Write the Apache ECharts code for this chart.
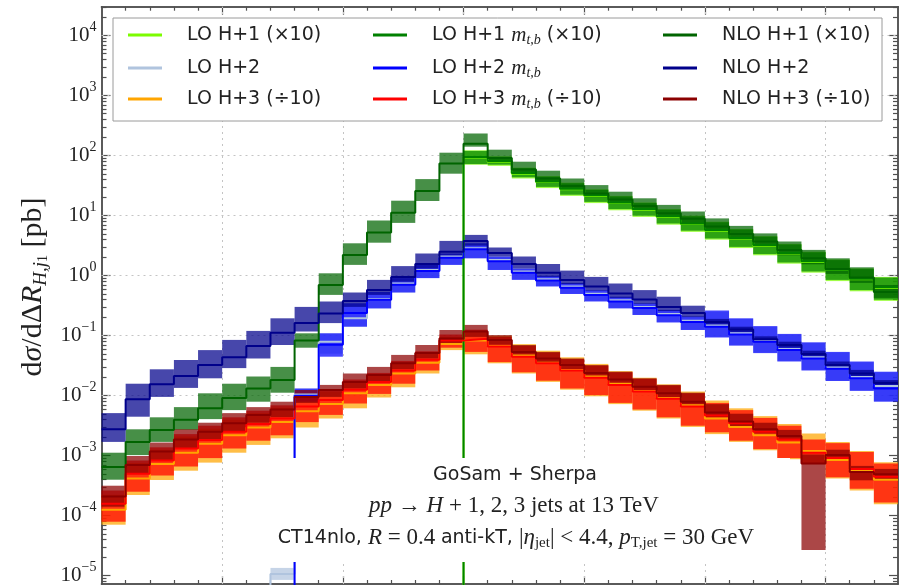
<!DOCTYPE html>
<html>
<head>
<meta charset="utf-8">
<script src="https://cdn.jsdelivr.net/npm/echarts@6/dist/echarts.min.js"></script>
<style>
  html, body { margin: 0; padding: 0; background: #ffffff; }
  #chart { width: 900px; height: 587px; }
</style>
</head>
<body>
<div id="chart"></div>
<script>
// ΔR(H, j1) bin edges
const binEdges = [0, 0.2, 0.4, 0.6, 0.8, 1.0, 1.2, 1.4, 1.6, 1.8, 2.0, 2.2, 2.4, 2.6, 2.8, 3.0, 3.2,
  3.4, 3.6, 3.8, 4.0, 4.2, 4.4, 4.6, 4.8, 5.0, 5.2, 5.4, 5.6, 5.8, 6.0, 6.2, 6.4, 6.6];

// Per bin: [lower, central, upper] of log10(dσ/dΔR / pb); null = empty bin
const loH1 = [null, null, null, null, null, null, null, null, null, null, null, null, null, null, null,
  [1.85, 1.97, 2.09], [1.83, 1.90, 1.99], [1.62, 1.70, 1.80], [1.46, 1.56, 1.66], [1.33, 1.44, 1.55],
  [1.21, 1.33, 1.44], [1.09, 1.21, 1.33], [0.98, 1.10, 1.22], [0.85, 0.98, 1.11], [0.73, 0.86, 1.00],
  [0.60, 0.75, 0.90], [0.46, 0.62, 0.78], [0.34, 0.50, 0.66], [0.20, 0.37, 0.53], [0.05, 0.23, 0.40],
  [-0.09, 0.095, 0.27], [-0.26, -0.06, 0.12], [-0.42, -0.20, -0.02]];

const loH2 = [null, null, null, null, null, null, null,
  [-5.07, -4.97, -4.87], [-2.12, -1.98, -1.88], [-1.30, -1.10, -0.96], [-0.85, -0.71, -0.46],
  [-0.545, -0.39, -0.27], [-0.28, -0.13, -0.04], [-0.04, 0.095, 0.18], [0.18, 0.32, 0.37],
  [0.29, 0.457, 0.54], [0.10, 0.26, 0.32], [-0.06, 0.07, 0.12], [-0.17, -0.06, 0.0],
  [-0.30, -0.18, -0.12], [-0.42, -0.30, -0.24], [-0.54, -0.41, -0.35], [-0.65, -0.52, -0.46],
  [-0.77, -0.64, -0.57], [-0.90, -0.75, -0.68], [-1.02, -0.83, -0.60], [-1.16, -0.96, -0.72],
  [-1.28, -1.08, -0.85], [-1.42, -1.22, -0.98], [-1.57, -1.36, -1.12], [-1.75, -1.53, -1.28],
  [-1.91, -1.69, -1.44], [-2.09, -1.84, -1.61]];

const loH3 = [
  [-4.15, -3.90, -3.65], [-3.655, -3.38, -3.12], [-3.405, -3.14, -2.90], [-3.25, -2.95, -2.68],
  [-3.115, -2.80, -2.55], [-2.95, -2.66, -2.40], [-2.82, -2.53, -2.29], [-2.71, -2.44, -2.20],
  [-2.53, -2.26, -2.02], [-2.38, -2.14, -1.93], [-2.21, -1.96, -1.76], [-2.03, -1.82, -1.65],
  [-1.86, -1.63, -1.45], [-1.63, -1.45, -1.29], [-1.24, -1.14, -1.02], [-1.31, -1.08, -0.92],
  [-1.46, -1.17, -1.00], [-1.63, -1.33, -1.14], [-1.77, -1.45, -1.25], [-1.90, -1.57, -1.36],
  [-2.01, -1.68, -1.47], [-2.14, -1.80, -1.59], [-2.25, -1.92, -1.70], [-2.38, -2.04, -1.81],
  [-2.52, -2.16, -1.93], [-2.64, -2.38, -2.08], [-2.77, -2.52, -2.21], [-2.91, -2.66, -2.34],
  [-3.06, -2.78, -2.47], [-3.14, -2.92, -2.63], [-3.38, -3.07, -2.77], [-3.58, -3.24, -2.92],
  [-3.81, -3.40, -3.11]];

const loH1mtb = [null, null, null, null, null, null, null, null, null, null, null, null, null, null, null,
  [1.86, 1.98, 2.08], [1.85, 1.91, 1.98], [1.64, 1.71, 1.79], [1.48, 1.57, 1.65], [1.35, 1.45, 1.54],
  [1.23, 1.34, 1.43], [1.11, 1.22, 1.32], [1.00, 1.11, 1.21], [0.87, 0.99, 1.10], [0.75, 0.87, 0.99],
  [0.62, 0.76, 0.89], [0.48, 0.63, 0.77], [0.36, 0.51, 0.65], [0.22, 0.38, 0.52], [0.07, 0.24, 0.39],
  [-0.07, 0.10, 0.26], [-0.24, -0.05, 0.11], [-0.40, -0.19, -0.03]];

const loH2mtb = [null, null, null, null, null, null, null, null,
  [-2.10, -2.00, -1.88], [-1.35, -1.15, -0.96], [-0.85, -0.62, -0.46], [-0.545, -0.40, -0.27],
  [-0.28, -0.15, -0.04], [-0.04, 0.08, 0.18], [0.18, 0.30, 0.37], [0.29, 0.44, 0.54],
  [0.095, 0.24, 0.32], [-0.07, 0.05, 0.12], [-0.18, -0.08, 0.0], [-0.305, -0.20, -0.12],
  [-0.43, -0.32, -0.24], [-0.545, -0.43, -0.35], [-0.655, -0.54, -0.46], [-0.78, -0.66, -0.57],
  [-0.905, -0.77, -0.68], [-1.03, -0.85, -0.58], [-1.165, -0.98, -0.71], [-1.29, -1.10, -0.84],
  [-1.43, -1.24, -0.97], [-1.58, -1.38, -1.11], [-1.755, -1.55, -1.27], [-1.92, -1.71, -1.43],
  [-2.10, -1.88, -1.60]];

const loH3mtb = [
  [-4.10, -3.80, -3.58], [-3.60, -3.30, -3.08], [-3.33, -3.08, -2.86], [-3.18, -2.88, -2.64],
  [-3.04, -2.74, -2.50], [-2.88, -2.60, -2.36], [-2.75, -2.47, -2.25], [-2.66, -2.38, -2.16],
  [-2.44, -2.18, -1.98], [-2.32, -2.07, -1.89], [-2.13, -1.90, -1.73], [-1.97, -1.77, -1.62],
  [-1.80, -1.58, -1.42], [-1.58, -1.40, -1.26], [-1.20, -1.08, -0.98], [-1.27, -1.05, -0.90],
  [-1.44, -1.18, -1.02], [-1.61, -1.35, -1.17], [-1.75, -1.46, -1.28], [-1.88, -1.58, -1.39],
  [-1.99, -1.70, -1.50], [-2.12, -1.82, -1.61], [-2.23, -1.93, -1.72], [-2.36, -2.05, -1.83],
  [-2.50, -2.18, -1.96], [-2.61, -2.33, -2.12], [-2.75, -2.46, -2.24], [-2.89, -2.60, -2.37],
  [-3.04, -2.73, -2.50], [-3.13, -2.95, -2.73], [-3.36, -3.04, -2.79], [-3.55, -3.22, -2.94],
  [-3.78, -3.35, -3.13]];

const nloH1 = [
  [-3.40, -3.19, -2.95], [-2.99, -2.77, -2.56], [-2.77, -2.57, -2.36], [-2.57, -2.40, -2.19],
  [-2.39, -2.21, -1.96], [-2.24, -2.04, -1.80], [-2.10, -1.88, -1.68], [-1.95, -1.74, -1.52],
  [-1.20, -1.08, -0.96], [-0.32, -0.155, 0.04], [0.18, 0.345, 0.54], [0.55, 0.72, 0.92],
  [0.88, 1.05, 1.25], [1.245, 1.41, 1.61], [1.70, 1.87, 2.05], [2.15, 2.20, 2.37],
  [1.88, 1.96, 2.10], [1.70, 1.77, 1.90], [1.55, 1.62, 1.75], [1.43, 1.495, 1.62],
  [1.31, 1.37, 1.51], [1.20, 1.27, 1.40], [1.09, 1.16, 1.29], [0.97, 1.04, 1.18],
  [0.87, 0.95, 1.07], [0.74, 0.82, 0.955], [0.61, 0.695, 0.83], [0.48, 0.57, 0.705],
  [0.34, 0.43, 0.57], [0.19, 0.29, 0.43], [0.03, 0.11, 0.29], [-0.12, -0.03, 0.14],
  [-0.37, -0.27, -0.155]];

const nloH2 = [
  [-2.77, -2.56, -2.29], [-2.35, -2.06, -1.80], [-2.02, -1.81, -1.56], [-1.87, -1.67, -1.405],
  [-1.71, -1.49, -1.24], [-1.54, -1.36, -1.07], [-1.38, -1.17, -0.92], [-1.155, -0.95, -0.71],
  [-0.93, -0.79, -0.52], [-0.79, -0.63, -0.43], [-0.52, -0.42, -0.28], [-0.32, -0.24, -0.07],
  [-0.10, -0.02, 0.16], [0.12, 0.195, 0.37], [0.33, 0.40, 0.58], [0.50, 0.58, 0.68],
  [0.32, 0.38, 0.47], [0.12, 0.195, 0.32], [-0.02, 0.05, 0.195], [-0.14, -0.07, 0.085],
  [-0.25, -0.18, -0.02], [-0.37, -0.295, -0.13], [-0.47, -0.395, -0.24], [-0.59, -0.52, -0.35],
  [-0.69, -0.62, -0.50], [-0.82, -0.77, -0.72], [-0.94, -0.895, -0.85], [-1.10, -1.06, -1.01],
  [-1.20, -1.155, -1.10], [-1.35, -1.305, -1.25], [-1.53, -1.49, -1.43], [-1.68, -1.63, -1.57],
  [-1.84, -1.79, -1.74]];

const nloH3 = [
  [-3.85, -3.68, -3.50], [-3.30, -3.155, -3.005], [-3.08, -2.93, -2.78], [-2.88, -2.73, -2.56],
  [-2.75, -2.60, -2.45], [-2.60, -2.46, -2.29], [-2.45, -2.32, -2.19], [-2.36, -2.23, -2.10],
  [-2.12, -2.02, -1.905], [-2.02, -1.905, -1.82], [-1.88, -1.77, -1.63], [-1.76, -1.655, -1.52],
  [-1.56, -1.46, -1.32], [-1.38, -1.29, -1.155], [-1.12, -1.045, -0.905], [-1.02, -0.93, -0.82],
  [-1.15, -1.07, -0.99], [-1.33, -1.27, -1.155], [-1.45, -1.38, -1.27], [-1.56, -1.49, -1.38],
  [-1.68, -1.62, -1.49], [-1.80, -1.73, -1.60], [-1.92, -1.85, -1.71], [-2.03, -1.96, -1.82],
  [-2.17, -2.10, -1.95], [-2.36, -2.28, -2.14], [-2.52, -2.43, -2.30], [-2.63, -2.56, -2.45],
  [-2.74, -2.67, -2.57], [-4.57, -3.13, -2.98], [-3.06, -2.99, -2.90], [-3.41, -3.27, -3.17],
  [-3.41, -3.31, -3.22]];

// Drawing order, names and colours of the nine predictions
const predictions = [
  { name: 'LO H+1 (×10)',       data: loH1,    color: '#7CFC00' },
  { name: 'LO H+2',             data: loH2,    color: '#B0C4DE' },
  { name: 'LO H+3 (÷10)',       data: loH3,    color: '#FFA500' },
  { name: 'LO H+1 mtb (×10)',   data: loH1mtb, color: '#008000' },
  { name: 'LO H+2 mtb',         data: loH2mtb, color: '#0000FF' },
  { name: 'LO H+3 mtb (÷10)',   data: loH3mtb, color: '#FF0000' },
  { name: 'NLO H+1 (×10)',      data: nloH1,   color: '#006400' },
  { name: 'NLO H+2',            data: nloH2,   color: '#00008B' },
  { name: 'NLO H+3 (÷10)',      data: nloH3,   color: '#8B0000' }
];

// Axis ranges and tick positions
const xMin = 0, xMax = 6.6;
const yLogMin = -5.138, yLogMax = 4.483;
const xMajorTicks = [1, 2, 3, 4, 5, 6];
const yMajorTicks = [1e-5, 1e-4, 1e-3, 1e-2, 1e-1, 1, 10, 100, 1e3, 1e4];

const pb = e => Math.pow(10, e);
const yMin = pb(yLogMin), yMax = pb(yLogMax);
const xMinorTicks = [];
for (let i = 1; i < 33; i++) { if (i % 5 !== 0) xMinorTicks.push(+(i * 0.2).toFixed(1)); }
const yMinorTicks = [];
for (let n = -6; n <= 4; n++) {
  for (let m = 2; m <= 9; m++) {
    const v = m * Math.pow(10, n);
    if (v > yMin && v < yMax) yMinorTicks.push(v);
  }
}

const frameColor = '#505050';
const SERIF = '"Liberation Serif", "DejaVu Serif", serif';
const SANS = '"DejaVu Sans", sans-serif';

function xAxisDef(position, ticks, len) {
  return {
    type: 'value', min: xMin, max: xMax, position: position,
    axisLine: { show: true, onZero: false, lineStyle: { color: frameColor, width: 1.5 } },
    axisTick: { show: true, inside: true, length: len, customValues: ticks,
                lineStyle: { color: frameColor, width: 1.2 } },
    axisLabel: { show: false },
    splitLine: { show: false },
    minorTick: { show: false }, minorSplitLine: { show: false }
  };
}

function supText(v) {
  const e = Math.round(Math.log10(v));
  return '{b|10}{s|' + (e < 0 ? '−' + (-e) : e) + '}';
}

function yAxisDef(position, ticks, len, withLabels) {
  return {
    type: 'log', logBase: 10, min: yMin, max: yMax, position: position,
    axisLine: { show: true, onZero: false, lineStyle: { color: frameColor, width: 1.5 } },
    axisTick: { show: true, inside: true, length: len, customValues: ticks,
                lineStyle: { color: frameColor, width: 1.2 } },
    axisLabel: withLabels ? {
      show: true, customValues: yMajorTicks, margin: 5, formatter: supText,
      rich: {
        b: { fontFamily: SERIF, fontSize: 21, color: '#222', lineHeight: 30, verticalAlign: 'middle' },
        s: { fontFamily: SERIF, fontSize: 14, color: '#222', lineHeight: 14, verticalAlign: 'top' }
      }
    } : { show: false },
    splitLine: { show: false },
    minorTick: { show: false }, minorSplitLine: { show: false }
  };
}

// Dotted grid at the major ticks, kept underneath the histograms
const gridSeries = {
  type: 'line', name: 'grid', data: [], silent: true, xAxisIndex: 0, yAxisIndex: 0, z: 1,
  markLine: {
    silent: true, z: 1, symbol: ['none', 'none'], label: { show: false },
    lineStyle: { color: '#c4c4c4', width: 1, type: [2, 4] },
    emphasis: { disabled: true },
    data: xMajorTicks.map(v => ({ xAxis: v })).concat(yMajorTicks.map(v => ({ yAxis: v })))
  }
};

// Uncertainty band: one rectangle per bin, clipped to the plot area
function bandSeries(p) {
  const rows = [];
  p.data.forEach((t, i) => {
    if (t) rows.push([binEdges[i], binEdges[i + 1], pb(t[0]), pb(t[2])]);
  });
  return {
    type: 'custom', name: p.name + ' band', silent: true, z: 2,
    xAxisIndex: 0, yAxisIndex: 0,
    encode: { x: [0, 1], y: [2, 3] },
    data: rows,
    renderItem: function (params, api) {
      const a = api.coord([api.value(0), api.value(3)]);
      const b = api.coord([api.value(1), api.value(2)]);
      const shape = echarts.graphic.clipRectByRect(
        { x: a[0], y: a[1], width: b[0] - a[0], height: b[1] - a[1] },
        { x: params.coordSys.x, y: params.coordSys.y,
          width: params.coordSys.width, height: params.coordSys.height });
      if (!shape) return null;
      return { type: 'rect', shape: shape,
               style: { fill: p.color, opacity: 0.72 } };
    }
  };
}

// Central value as a step histogram; empty bins drop out of the log range
function lineSeries(p) {
  const below = 1e-12;
  const pts = p.data.map((t, i) => [binEdges[i], t ? pb(t[1]) : below]);
  const last = p.data[p.data.length - 1];
  pts.push([binEdges[binEdges.length - 1], last ? pb(last[1]) : below]);
  return {
    type: 'line', name: p.name, step: 'end', data: pts, z: 2,
    xAxisIndex: 0, yAxisIndex: 0,
    symbol: 'none', clip: true, silent: true,
    color: p.color,
    lineStyle: { color: p.color, width: 2 }
  };
}

const series = [gridSeries];
predictions.forEach(p => { series.push(bandSeries(p)); series.push(lineSeries(p)); });

// Legend: three columns, three rows
const legendCols = [128, 373, 663];
const legendRows = [35, 68, 99];
const legendRich = {
  m: { fontFamily: SERIF, fontStyle: 'italic', fontSize: 21, color: '#222', lineHeight: 24, verticalAlign: 'middle' },
  t: { fontFamily: SERIF, fontStyle: 'italic', fontSize: 14, color: '#222', lineHeight: 13, verticalAlign: 'bottom' }
};
function legendText(name) {
  return name.replace(' mtb', ' {m|m}{t|t,b}');
}
const legends = predictions.map((p, i) => ({
  show: true, z: 120, selectedMode: false, padding: 0,
  left: legendCols[Math.floor(i / 3)], top: legendRows[i % 3] - 12,
  itemWidth: 34, itemHeight: 3, icon: 'rect',
  data: [{ name: p.name, icon: 'rect', itemStyle: { color: p.color } }],
  formatter: legendText,
  textStyle: { fontFamily: SANS, fontSize: 19, color: '#222', lineHeight: 24,
               padding: [0, 0, 0, 20], rich: legendRich }
}));

const chart = echarts.init(document.getElementById('chart'), null, { renderer: 'canvas' });
chart.setOption({
  backgroundColor: '#ffffff',
  animation: false,
  grid: { left: 101.5, top: 6.7, width: 796.5, height: 577.3, containLabel: false },
  xAxis: [
    xAxisDef('bottom', xMajorTicks, 8),
    xAxisDef('bottom', xMinorTicks, 4),
    xAxisDef('top', xMajorTicks, 8),
    xAxisDef('top', xMinorTicks, 4)
  ],
  yAxis: [
    yAxisDef('left', yMajorTicks, 9, true),
    yAxisDef('left', yMinorTicks, 5, false),
    yAxisDef('right', yMajorTicks, 9, false),
    yAxisDef('right', yMinorTicks, 5, false)
  ],
  legend: legends,
  series: series,
  graphic: [
    { type: 'rect', z: 100, silent: true,
      shape: { x: 113, y: 18, width: 769, height: 103 },
      style: { fill: '#ffffff', stroke: '#9a9a9a', lineWidth: 1 } },
    { type: 'rect', z: 100, silent: true,
      shape: { x: 262, y: 458, width: 528, height: 104 },
      style: { fill: '#ffffff' } },
    { type: 'text', z: 101, x: 515, y: 475, silent: true,
      style: { text: 'GoSam + Sherpa', fontFamily: SANS, fontSize: 19, fill: '#222',
               align: 'center', verticalAlign: 'middle' } },
    { type: 'text', z: 101, x: 514, y: 506, silent: true,
      style: {
        text: '{i|pp}{n| → }{i|H}{n| + 1, 2, 3 jets at 13 TeV}',
        align: 'center', verticalAlign: 'middle',
        rich: {
          i: { fontFamily: SERIF, fontStyle: 'italic', fontSize: 23, fill: '#222' },
          n: { fontFamily: SERIF, fontSize: 23, fill: '#222' }
        } } },
    { type: 'text', z: 101, x: 516, y: 538, silent: true,
      style: {
        text: '{s|CT14nlo, }{i|R}{n| = 0.4 }{s|anti-kT, }{n||}{i|η}{b|jet}{n|| < 4.4, }{i|p}{b|T,jet}{n| = 30 GeV}',
        align: 'center', verticalAlign: 'middle',
        rich: {
          s: { fontFamily: SANS, fontSize: 19, fill: '#222', lineHeight: 26, verticalAlign: 'middle' },
          i: { fontFamily: SERIF, fontStyle: 'italic', fontSize: 23, fill: '#222', lineHeight: 26, verticalAlign: 'middle' },
          n: { fontFamily: SERIF, fontSize: 23, fill: '#222', lineHeight: 26, verticalAlign: 'middle' },
          b: { fontFamily: SERIF, fontSize: 15, fill: '#222', lineHeight: 14, verticalAlign: 'bottom' }
        } } },
    { type: 'text', z: 101, x: 33, y: 287, rotation: Math.PI / 2, silent: true,
      style: {
        text: '{n|d}{i|σ}{n|/dΔ}{i|R}{b|H,j}{c|1}{n| [pb]}',
        align: 'center', verticalAlign: 'middle',
        rich: {
          n: { fontFamily: SERIF, fontSize: 30, fill: '#222', lineHeight: 34, verticalAlign: 'middle' },
          i: { fontFamily: SERIF, fontStyle: 'italic', fontSize: 30, fill: '#222', lineHeight: 34, verticalAlign: 'middle' },
          b: { fontFamily: SERIF, fontStyle: 'italic', fontSize: 19, fill: '#222', lineHeight: 18, verticalAlign: 'bottom' },
          c: { fontFamily: SERIF, fontSize: 14, fill: '#222', lineHeight: 11, verticalAlign: 'bottom' }
        } } }
  ]
});
</script>
</body>
</html>
